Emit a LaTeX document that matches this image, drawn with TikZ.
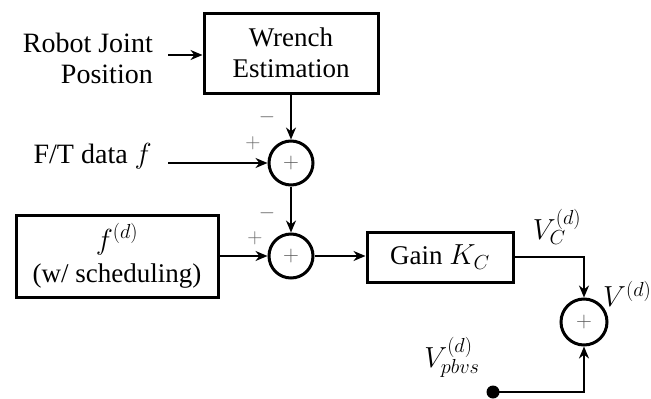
\RequirePackage{fix-cm}
\documentclass[tikz,border=0pt]{standalone}
\usepackage{fontspec}
\setmainfont{Liberation Serif}
\usetikzlibrary{arrows.meta}
\begin{document}
\begin{tikzpicture}[x=1pt,y=-1pt,
  every node/.style={font=\fontsize{27}{31}\selectfont},
  big/.style={font=\fontsize{28}{31}\selectfont},
  mth/.style={font=\fontsize{29}{31}\selectfont},
  blk/.style={draw,line width=3pt,inner sep=0pt,align=center},
  sumc/.style={draw,circle,line width=3pt,minimum size=44pt,inner sep=0pt,
     font=\fontsize{22}{22}\selectfont,text=black!65},
  sgn/.style={font=\fontsize{21}{21}\selectfont,text=black!60,inner sep=0pt},
  lab/.style={inner sep=0pt},
  arr/.style={line width=2.6pt,-{Stealth[length=12pt,width=10pt]}}]
\useasboundingbox (0,0) rectangle (651,399);
\node[blk,minimum width=174pt,minimum height=80pt] (wr) at (291,53) {Wrench\\Estimation};
\node[lab,big,anchor=east,align=right] (rj) at (153,58) {Robot Joint\\Position};
\coordinate (rjin) at (168,55);
\node[sumc] (s1) at (291,163) {$+$};
\node[lab,big,anchor=east] (ft) at (152,156) {F/T data {\fontsize{29}{31}\selectfont$f$}};
\coordinate (ftin) at (168,163);
\node[sumc] (s2) at (291,256) {$+$};
\node[blk,minimum width=202pt,minimum height=82pt] (fd) at (117,256) {{\fontsize{29}{31}\selectfont$f^{(d)}$}\\[2pt](w/ scheduling)};
\node[blk,minimum width=146pt,minimum height=50pt] (gain) at (440,257) {Gain {\fontsize{29}{31}\selectfont$K_C$}};
\node[sumc,minimum size=46pt] (s3) at (584,322) {$+$};
\node[circle,fill=black,minimum size=13pt,inner sep=0pt] (dot) at (493,392) {};
\node[sgn] (m1) at (267,117) {$-$};
\node[sgn] (p1) at (253,143) {$+$};
\node[sgn] (m2) at (267,213) {$-$};
\node[sgn] (p2) at (255,238) {$+$};
\node[lab,mth] (vc) at (557,227) {$V_C^{(d)}$};
\node[lab,mth,anchor=west] (v) at (603,294) {$V^{(d)}$};
\node[lab,mth] (vp) at (452,357) {$V_{pbvs}^{(d)}$};
\draw[arr] (rjin) -- (rjin -| wr.west);
\draw[arr] (wr.south) -- (s1.north);
\draw[arr] (ftin) -- (s1.west);
\draw[arr] (s1.south) -- (s2.north);
\draw[arr] (fd.east) -- (s2.west);
\draw[arr] (s2.east) -- (s2.east -| gain.west);
\draw[arr] (gain.east) -| (s3.north);
\draw[arr] (dot.center) -| (s3.south);
\end{tikzpicture}
\end{document}
